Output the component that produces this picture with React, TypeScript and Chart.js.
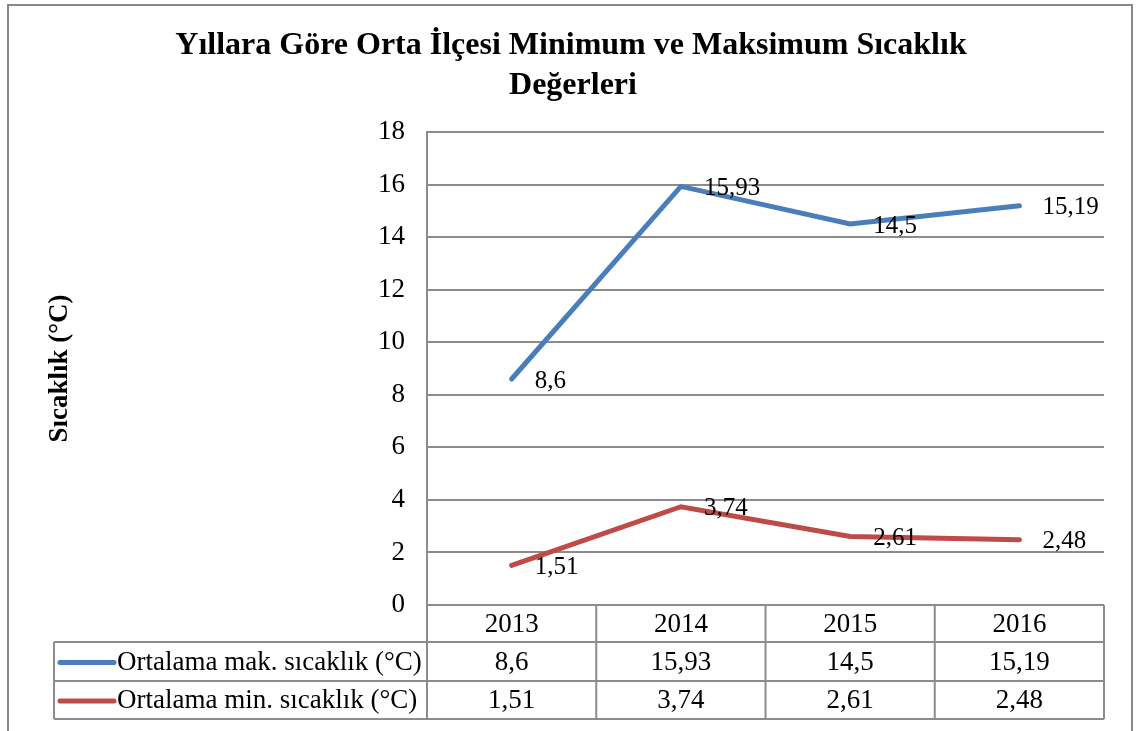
import React, { useEffect, useRef } from "react";
import { Chart, registerables } from "chart.js";

Chart.register(...registerables);

const titleLines = ["Yıllara Göre Orta İlçesi Minimum ve Maksimum Sıcaklık", "Değerleri"];
const yAxisTitle = "Sıcaklık (°C)";
const years = ["2013", "2014", "2015", "2016"];
const maxLabel = "Ortalama mak. sıcaklık (°C)";
const minLabel = "Ortalama min. sıcaklık (°C)";
const maxValues = [8.6, 15.93, 14.5, 15.19];
const minValues = [1.51, 3.74, 2.61, 2.48];

const BLUE = "#4a7ebb";
const RED = "#be4b48";
const GRID = "#8c8c8c";
const FONT = "'Liberation Serif', 'Times New Roman', serif";

const fmt = (v: number) => String(v).replace(".", ",");

const framePlugin = {
  id: "frame",
  beforeDraw(chart: any) {
    const ctx = chart.ctx;
    ctx.save();
    ctx.fillStyle = "#ffffff";
    ctx.fillRect(0, 0, chart.width, chart.height);
    ctx.strokeStyle = "#888888";
    ctx.lineWidth = 2;
    ctx.strokeRect(8, 5, 1124, 800);
    ctx.font = `bold 32px ${FONT}`;
    ctx.fillStyle = "#000";
    ctx.textAlign = "center";
    ctx.textBaseline = "middle";
    ctx.fillText(titleLines[0], 571, 46);
    ctx.fillText(titleLines[1], 573, 86);
    ctx.restore();
  },
};

const labelsPlugin = {
  id: "pointLabels",
  afterDatasetsDraw(chart: any) {
    const ctx = chart.ctx;
    ctx.save();
    ctx.font = `25px ${FONT}`;
    ctx.fillStyle = "#000";
    ctx.textAlign = "left";
    ctx.textBaseline = "middle";
    chart.data.datasets.forEach((ds: any, di: number) => {
      const meta = chart.getDatasetMeta(di);
      meta.data.forEach((pt: any, i: number) => {
        ctx.fillText(fmt(ds.data[i]), pt.x + 23, pt.y + 2);
      });
    });
    ctx.restore();
  },
};

const tablePlugin = {
  id: "dataTable",
  afterDraw(chart: any) {
    const ctx = chart.ctx;
    const area = chart.chartArea;
    const xs = chart.scales.x;
    const n = years.length;
    const colW = (area.right - area.left) / n;
    const top = area.bottom;
    const rowH = [37, 39, 38];
    const r1 = top + rowH[0];
    const r2 = r1 + rowH[1];
    const r3 = r2 + rowH[2];
    const tableLeft = 54;
    ctx.save();
    ctx.strokeStyle = GRID;
    ctx.lineWidth = 2;
    ctx.beginPath();
    ctx.moveTo(area.left, top);
    ctx.lineTo(area.right, top);
    [r1, r2, r3].forEach((y) => {
      ctx.moveTo(tableLeft, y);
      ctx.lineTo(area.right, y);
    });
    for (let i = 0; i <= n; i++) {
      const x = area.left + i * colW;
      ctx.moveTo(x, top);
      ctx.lineTo(x, r3);
    }
    ctx.moveTo(tableLeft, r1);
    ctx.lineTo(tableLeft, r3);
    ctx.stroke();

    ctx.font = `27px ${FONT}`;
    ctx.fillStyle = "#000";
    ctx.textBaseline = "middle";
    ctx.textAlign = "center";
    const c0 = (top + r1) / 2 + 1;
    const c1 = (r1 + r2) / 2 + 1;
    const c2 = (r2 + r3) / 2 + 1;
    years.forEach((y, i) => {
      const x = xs.getPixelForValue(i);
      ctx.fillText(y, x, c0);
      ctx.fillText(fmt(maxValues[i]), x, c1);
      ctx.fillText(fmt(minValues[i]), x, c2);
    });

    const rows = [
      { label: maxLabel, color: BLUE, y: c1 },
      { label: minLabel, color: RED, y: c2 },
    ];
    rows.forEach((r) => {
      ctx.strokeStyle = r.color;
      ctx.lineWidth = 5;
      ctx.lineCap = "round";
      ctx.beginPath();
      ctx.moveTo(60, r.y);
      ctx.lineTo(114, r.y);
      ctx.stroke();
      ctx.textAlign = "left";
      ctx.fillText(r.label, 117, r.y);
    });
    ctx.restore();
  },
};

export default function App() {
  const ref = useRef<HTMLCanvasElement | null>(null);

  useEffect(() => {
    document.body.style.margin = "0";
    if (!ref.current) return;
    const chart = new Chart(ref.current, {
      type: "line",
      data: {
        labels: years,
        datasets: [
          {
            label: maxLabel,
            data: maxValues,
            borderColor: BLUE,
            backgroundColor: BLUE,
            borderWidth: 5,
            pointRadius: 0,
            tension: 0,
            borderCapStyle: "round",
            borderJoinStyle: "miter",
          },
          {
            label: minLabel,
            data: minValues,
            borderColor: RED,
            backgroundColor: RED,
            borderWidth: 5,
            pointRadius: 0,
            tension: 0,
            borderCapStyle: "round",
            borderJoinStyle: "miter",
          },
        ],
      },
      options: {
        responsive: false,
        animation: false,
        devicePixelRatio: 1,
        layout: { padding: { left: 0, right: 32, top: 132, bottom: 126 } },
        plugins: {
          legend: { display: false },
          tooltip: { enabled: false },
          title: { display: false },
        },
        scales: {
          x: {
            type: "category",
            display: false,
            offset: true,
          },
          y: {
            min: 0,
            max: 18,
            afterFit(scale: any) {
              scale.width = 427;
            },
            ticks: {
              stepSize: 2,
              color: "#000",
              padding: 22,
              font: { family: FONT, size: 27 },
            },
            grid: { color: GRID, lineWidth: 2, drawTicks: false },
            border: { display: true, color: GRID, width: 2 },
            title: {
              display: true,
              text: yAxisTitle,
              color: "#000",
              font: { family: FONT, size: 27, weight: "bold" },
              padding: { top: 44, bottom: 0 },
            },
          },
        },
      },
      plugins: [framePlugin, labelsPlugin, tablePlugin],
    });
    return () => chart.destroy();
  }, []);

  return (
    <div style={{ width: 1136, height: 731 }}>
      <canvas ref={ref} width={1136} height={731} style={{ display: "block" }} />
    </div>
  );
}
